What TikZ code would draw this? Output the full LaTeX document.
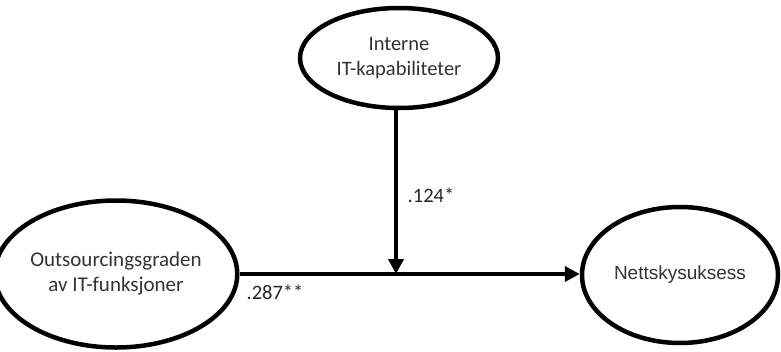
\documentclass[tikz,border=0pt]{standalone}
\usepackage{fontspec}
\setmainfont{Liberation Sans}
\newfontfamily\calib{Carlito}
\usetikzlibrary{shapes.geometric,arrows.meta}
\begin{document}
\begin{tikzpicture}[x=1pt,y=1pt,
  oval/.style={ellipse,draw=black,line width=4.5pt,fill=white,align=center,inner sep=0pt},
  conn/.style={line width=4.5pt,-{Triangle[length=15pt,width=15pt]}},
  coef/.style={font=\calib\fontsize{20.5}{24}\selectfont,text=black!85}
]
\useasboundingbox (0,0) rectangle (781,-351);
\node[oval,minimum width=198,minimum height=100,font=\calib\fontsize{20.5}{25}\selectfont,text=black!80] (top) at (399,-58) {Interne\\IT-kapabiliteter};
\node[oval,minimum width=223,minimum height=147,font=\calib\fontsize{21}{25}\selectfont,text=black!80] (left) at (116,-274) {Outsourcingsgraden\\av IT-funksjoner};
\node[oval,minimum width=196,minimum height=136,font=\fontsize{19}{22}\selectfont,text=black!80] (right) at (680,-275) {Nettskysuksess};
\coordinate (j) at (396,-274);
\draw[conn] (left.east |- j) -- (right.west |- j);
\draw[conn] (top.south -| j) -- (j);
\node[coef] (c1) at (431,-195) {.124*};
\node[coef] (c2) at (275,-292) {.287**};
\end{tikzpicture}
\end{document}
